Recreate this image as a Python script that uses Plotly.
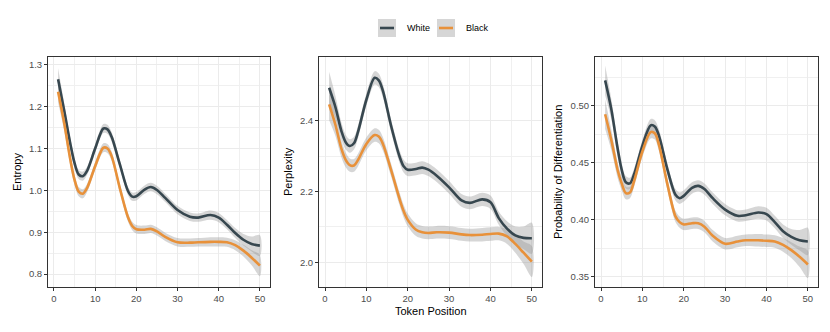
import plotly.graph_objects as go

# ---------------- data ----------------
token_pos = [1, 2.5, 4, 5, 6, 7, 8, 10, 12, 13, 14, 16, 18, 19, 20, 22, 23.5, 25, 27,
             30, 33, 35, 38, 40, 42, 44, 46, 48, 50]

entropy_white = [1.266, 1.190, 1.110, 1.065, 1.038, 1.034, 1.046, 1.100, 1.148, 1.146, 1.128,
                 1.062, 0.998, 0.985, 0.986, 1.002, 1.008, 1.001, 0.982, 0.953, 0.937, 0.935,
                 0.941, 0.935, 0.918, 0.898, 0.882, 0.872, 0.868]
entropy_black = [1.236, 1.160, 1.072, 1.025, 0.997, 0.992, 1.005, 1.058, 1.102, 1.100, 1.082,
                 1.005, 0.935, 0.915, 0.907, 0.906, 0.908, 0.902, 0.889, 0.876, 0.875, 0.876,
                 0.877, 0.877, 0.876, 0.869, 0.856, 0.839, 0.820]
entropy_se = [0.026, 0.018, 0.014, 0.012, 0.011, 0.011, 0.010, 0.010, 0.011, 0.011, 0.011,
              0.010, 0.010, 0.010, 0.010, 0.010, 0.010, 0.010, 0.010, 0.010, 0.010, 0.010,
              0.011, 0.011, 0.011, 0.012, 0.014, 0.018, 0.025]

perplexity_white = [2.494, 2.440, 2.370, 2.340, 2.329, 2.337, 2.370, 2.460, 2.522, 2.515, 2.485,
                    2.385, 2.300, 2.272, 2.262, 2.264, 2.268, 2.262, 2.245, 2.212, 2.175, 2.168,
                    2.178, 2.170, 2.125, 2.095, 2.076, 2.069, 2.068]
perplexity_black = [2.447, 2.390, 2.320, 2.290, 2.275, 2.274, 2.290, 2.335, 2.360, 2.356, 2.335,
                    2.260, 2.180, 2.145, 2.120, 2.092, 2.085, 2.083, 2.085, 2.084, 2.079, 2.077,
                    2.078, 2.080, 2.081, 2.073, 2.052, 2.027, 2.002]
perplexity_se = [0.045, 0.032, 0.024, 0.021, 0.019, 0.018, 0.018, 0.018, 0.019, 0.019, 0.019,
                 0.018, 0.018, 0.018, 0.018, 0.018, 0.018, 0.018, 0.018, 0.018, 0.018, 0.018,
                 0.019, 0.019, 0.019, 0.021, 0.025, 0.032, 0.044]

prob_white = [0.5225, 0.497, 0.463, 0.444, 0.433, 0.432, 0.440, 0.465, 0.483, 0.482, 0.474,
              0.445, 0.422, 0.419, 0.421, 0.428, 0.4298, 0.427, 0.419, 0.409, 0.4035, 0.404,
              0.4064, 0.405, 0.398, 0.390, 0.385, 0.382, 0.381]
prob_black = [0.4927, 0.470, 0.444, 0.432, 0.4235, 0.424, 0.434, 0.460, 0.477, 0.476, 0.466,
              0.432, 0.403, 0.398, 0.396, 0.397, 0.397, 0.394, 0.386, 0.379, 0.381, 0.382,
              0.382, 0.3816, 0.381, 0.378, 0.3734, 0.3675, 0.3608]
prob_se = [0.013, 0.009, 0.007, 0.006, 0.0055, 0.005, 0.005, 0.005, 0.0055, 0.0055, 0.0055,
           0.005, 0.005, 0.005, 0.005, 0.005, 0.005, 0.005, 0.005, 0.005, 0.005, 0.005,
           0.0055, 0.0055, 0.0055, 0.006, 0.007, 0.009, 0.012]

group_names = ["White", "Black"]
group_colors = ["#37474F", "#E8913A"]
y_titles = ["Entropy", "Perplexity", "Probability of Differentiation"]
x_title = "Token Position"
x_ticks = [0, 10, 20, 30, 40, 50]

panels = [
    (entropy_white, entropy_black, entropy_se, [0.769, 1.319], [0.8, 0.9, 1.0, 1.1, 1.2, 1.3], 0.05, ".1f"),
    (perplexity_white, perplexity_black, perplexity_se, [1.930, 2.581], [2.0, 2.2, 2.4], 0.1, ".1f"),
    (prob_white, prob_black, prob_se, [0.341, 0.543], [0.35, 0.40, 0.45, 0.50], 0.025, ".2f"),
]

# ---------------- layout geometry ----------------
# page body has an 8px default margin, so the figure is drawn 8px in and down
OFF = 8
W, H = 830 - OFF, 332 - OFF
def px(x):
    return (x - OFF) / W
def py(y):
    return 1 - (y - OFF) / H

x_domains = [[px(48), px(270)], [px(319), px(542)], [px(595), px(818)]]
y_domain = [py(287), py(57)]

FONT = "Liberation Sans, Arial, Helvetica, sans-serif"
RIBBON = "rgba(153,153,153,0.4)"

fig = go.Figure()
layout = dict(
    width=W, height=H, margin=dict(l=0, r=0, t=0, b=0),
    paper_bgcolor="white", plot_bgcolor="white",
    showlegend=False, font=dict(family=FONT, color="#000000"),
)

for i, (yw, yb, se, yr, yt, ymin, fmt) in enumerate(panels):
    xa = "x" if i == 0 else f"x{i+1}"
    ya = "y" if i == 0 else f"y{i+1}"
    for vals, col, name in [(yw, group_colors[0], group_names[0]), (yb, group_colors[1], group_names[1])]:
        upper = [v + s for v, s in zip(vals, se)]
        lower = [v - s for v, s in zip(vals, se)]
        fig.add_trace(go.Scatter(
            x=token_pos + token_pos[::-1], y=upper + lower[::-1],
            mode="lines", line=dict(width=0, shape="spline", smoothing=0.9),
            fill="toself", fillcolor=RIBBON, hoverinfo="skip",
            xaxis=xa, yaxis=ya, name=name + " CI"))
    for vals, col, name in [(yw, group_colors[0], group_names[0]), (yb, group_colors[1], group_names[1])]:
        fig.add_trace(go.Scatter(
            x=token_pos, y=vals, mode="lines",
            line=dict(color=col, width=2.6, shape="spline", smoothing=0.9),
            xaxis=xa, yaxis=ya, name=name))

    axcommon = dict(
        showline=True, mirror=True, linecolor="#333333", linewidth=1,
        ticks="outside", ticklen=3, tickcolor="#333333", tickwidth=1,
        showgrid=True, gridcolor="#EBEBEB", gridwidth=1, zeroline=False,
        tickfont=dict(family=FONT, size=9.5, color="#4D4D4D"),
    )
    xkey = "xaxis" if i == 0 else f"xaxis{i+1}"
    ykey = "yaxis" if i == 0 else f"yaxis{i+1}"
    layout[xkey] = dict(axcommon, domain=x_domains[i], range=[-1.45, 52.45],
                        tickmode="array", tickvals=x_ticks, anchor=ya,
                        minor=dict(dtick=5, tick0=0, showgrid=True, gridcolor="#F0F0F0", gridwidth=0.7, ticks=""))
    layout[ykey] = dict(axcommon, domain=y_domain, range=yr, tickmode="array",
                        tickvals=yt, tickformat=fmt, anchor=xa,
                        minor=dict(dtick=ymin, tick0=yt[0], showgrid=True, gridcolor="#F0F0F0", gridwidth=0.7, ticks=""))

fig.update_layout(**layout)

# axis titles
ytitle_x = [17, 288, 558]
for i, t in enumerate(y_titles):
    fig.add_annotation(text=t, x=px(ytitle_x[i]), y=py(172), xref="paper", yref="paper",
                       showarrow=False, textangle=-90, xanchor="center", yanchor="middle",
                       font=dict(family=FONT, size=11, color="#000000"))
fig.add_annotation(text=x_title, x=px(431), y=py(311), xref="paper", yref="paper",
                   showarrow=False, xanchor="center", yanchor="middle",
                   font=dict(family=FONT, size=11, color="#000000"))

# legend (custom, top centre)
key_left = [378, 437]
text_left = [405, 464]
for k in range(2):
    fig.add_shape(type="rect", xref="paper", yref="paper",
                  x0=px(key_left[k]), x1=px(key_left[k] + 18), y0=py(37), y1=py(19),
                  fillcolor="#D6D6D6", line=dict(width=0), layer="above")
    fig.add_shape(type="line", xref="paper", yref="paper",
                  x0=px(key_left[k] + 2), x1=px(key_left[k] + 16), y0=py(28), y1=py(28),
                  line=dict(color=group_colors[k], width=2.6), layer="above")
    fig.add_annotation(text=group_names[k], x=px(text_left[k]), y=py(28), xref="paper", yref="paper",
                       showarrow=False, xanchor="left", yanchor="middle",
                       font=dict(family=FONT, size=9, color="#000000"))

fig.write_html("out.html")
